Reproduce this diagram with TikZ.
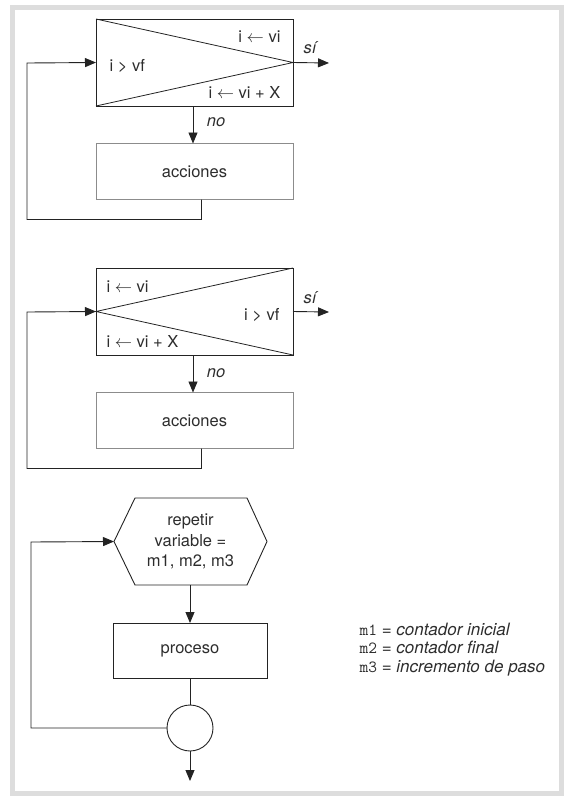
\documentclass[tikz,border=0pt]{standalone}
\usepackage{fontspec}
\setmainfont{TeX Gyre Heros}
\usepackage{tikz}
\usetikzlibrary{positioning}
\usetikzlibrary{calc}
\usetikzlibrary{arrows.meta}
\definecolor{txtgray}{RGB}{45,45,45}
\definecolor{linegray}{RGB}{35,35,35}
\definecolor{boxgray}{RGB}{140,140,140}
\definecolor{framegray}{RGB}{221,221,221}
\tikzset{
  condbox/.style={draw=linegray, line width=0.9pt, minimum width=197pt, minimum height=87pt, outer sep=0pt},
  accbox/.style={draw=boxgray, line width=0.9pt, minimum width=197pt, minimum height=56pt, outer sep=0pt},
  procbox/.style={draw=linegray, line width=0.9pt, minimum width=154pt, minimum height=55pt, outer sep=0pt},
  diag/.style={draw=linegray, line width=0.8pt},
  flecha/.style={-{Triangle[length=11pt,width=9pt]}, draw=linegray, line width=0.9pt},
  linea/.style={draw=linegray, line width=0.9pt},
}
\begin{document}
\begin{tikzpicture}[x=1pt, y=-1pt, every node/.style={font=\fontsize{16.5}{20.5}\selectfont, text=txtgray}]
    \useasboundingbox (0,0) rectangle (571,804);
    \draw[framegray, line width=4.5pt] (12.3,7.3) rectangle (561.5,793.5);

    % desde i = vi hasta vf (incremento al final)
    \node[condbox] (cond1) at (194.5,62.5) {};
    \draw[diag] (cond1.north west) -- (cond1.east) -- (cond1.south west);
    \node[anchor=east] (ini1) at (284,37) {i $\leftarrow$ vi};
    \node[anchor=west] (fin1) at (106,66) {i > vf};
    \node[anchor=east] (inc1) at (284,92) {i $\leftarrow$ vi + X};
    \coordinate (sal1) at (329,63);
    \draw[flecha] (cond1.east) -- (sal1);
    \node (si1) at (310,48) {\itshape sí};
    \node[accbox] (acc1) at (194.5,171.5) {acciones};
    \draw[flecha] (cond1.south -| 193,0) -- (acc1.north -| 193,0);
    \node (no1) at (216,122) {\itshape no};
    \coordinate (ret1) at (27,63);
    \draw[flecha] ([xshift=7pt]acc1.south) -- ++(0,20) -| (ret1) -- (cond1.west);

    % desde i = vi hasta vf (incremento al principio)
    \node[condbox] (cond2) at (194.5,311.5) {};
    \draw[diag] (cond2.north east) -- (cond2.west) -- (cond2.south east);
    \node[anchor=west] (ini2) at (103,287) {i $\leftarrow$ vi};
    \node[anchor=east] (fin2) at (283,315) {i > vf};
    \node[anchor=west] (inc2) at (103,341) {i $\leftarrow$ vi + X};
    \coordinate (sal2) at (329,312);
    \draw[flecha] (cond2.east) -- (sal2);
    \node (si2) at (310,298) {\itshape sí};
    \node[accbox] (acc2) at (194.5,420.5) {acciones};
    \draw[flecha] (cond2.south -| 193,0) -- (acc2.north -| 193,0);
    \node (no2) at (216,373) {\itshape no};
    \coordinate (ret2) at (27,312);
    \draw[flecha] ([xshift=7pt]acc2.south) -- ++(0,20) -| (ret2) -- (cond2.west);

    % repetir variable
    \node[minimum width=153pt, minimum height=87pt, outer sep=0pt, align=center] (hexa) at (190.5,541.5)
        {repetir\\variable =\\m1, m2, m3};
    \draw[linea] (hexa.west) -- ([xshift=21pt]hexa.north west) -- ([xshift=-20pt]hexa.north east)
        -- (hexa.east) -- ([xshift=-20pt]hexa.south east) -- ([xshift=21pt]hexa.south west) -- cycle;
    \node[procbox] (proc) at (190,650.5) {proceso};
    \draw[flecha] (hexa.south -| proc.north) -- (proc.north);
    \node[draw=linegray, line width=0.9pt, circle, minimum size=46pt, inner sep=0pt, outer sep=0pt] (circ) at (190,728) {};
    \draw[linea] (proc.south) -- (circ.north);
    \coordinate (ret3) at (31,542);
    \draw[flecha] (circ.west) -| (ret3) -- (hexa.west);
    \coordinate (sal3) at (190,781);
    \draw[flecha] (circ.south) -- (sal3);

    % leyenda
    \node[anchor=west, align=left, font=\fontsize{17}{18.5}\selectfont] (leyenda) at (356,649.5)
        {\texttt{m1} = \textit{contador inicial}\\\texttt{m2} = \textit{contador final}\\\texttt{m3} = \textit{incremento de paso}};
\end{tikzpicture}
\end{document}
